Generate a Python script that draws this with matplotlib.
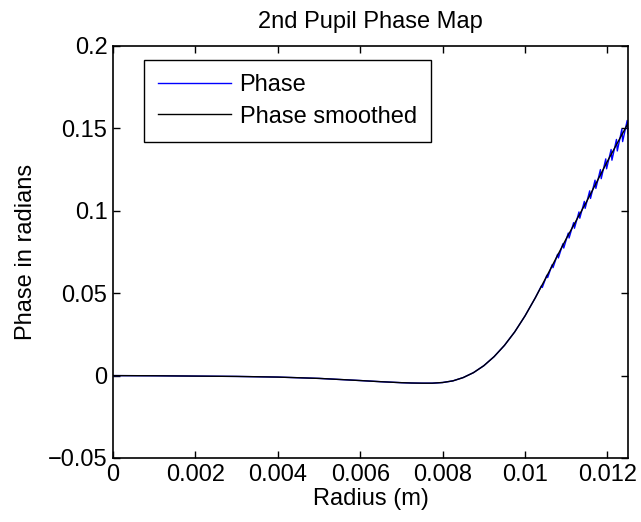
import matplotlib
matplotlib.use('Agg')
import matplotlib.pyplot as plt

plt.rcParams['font.family'] = ['Liberation Sans', 'DejaVu Sans']

# smoothed phase profile
radius = [0, 0.001, 0.002, 0.003, 0.004, 0.005, 0.006, 0.0065, 0.007, 0.00725,
          0.0075, 0.00775, 0.008, 0.00825, 0.0085, 0.00875, 0.009, 0.00925,
          0.0095, 0.00975, 0.01, 0.01025, 0.0105, 0.01075, 0.011, 0.0115,
          0.012, 0.0125]
phase_smooth = [0, -0.0001, -0.0003, -0.0005, -0.0009, -0.0017, -0.0030, -0.0037,
                -0.0043, -0.0045, -0.0046, -0.0046, -0.0042, -0.0032, -0.0012,
                0.0018, 0.0060, 0.0115, 0.0183, 0.0265, 0.0362, 0.0472, 0.0590,
                0.0710, 0.0830, 0.1058, 0.1300, 0.1530]

# raw phase: same as smoothed up to ~0.01025, then a growing sawtooth
tail_r = [0.01040, 0.01042, 0.01053, 0.01055, 0.01066, 0.01068, 0.01079, 0.01081,
          0.01092, 0.01094, 0.01105, 0.01107, 0.01118, 0.01120, 0.01131, 0.01133,
          0.01144, 0.01146, 0.01157, 0.01159, 0.01170, 0.01172, 0.01183, 0.01185,
          0.01196, 0.01198, 0.01209, 0.01211, 0.01222, 0.01224, 0.01235, 0.01237,
          0.01248, 0.01250]
tail_phase = [0.0545, 0.0535, 0.0609, 0.0595, 0.0673, 0.0655, 0.0736, 0.0714,
              0.0800, 0.0774, 0.0865, 0.0835, 0.0928, 0.0894, 0.0993, 0.0955,
              0.1057, 0.1015, 0.1121, 0.1075, 0.1186, 0.1136, 0.1250, 0.1195,
              0.1315, 0.1255, 0.1372, 0.1307, 0.1433, 0.1363, 0.1495, 0.1420,
              0.1548, 0.1468]

xticks = [0, 0.002, 0.004, 0.006, 0.008, 0.01, 0.012]
xticklabels = ['0', '0.002', '0.004', '0.006', '0.008', '0.01', '0.012']
yticks = [-0.05, 0, 0.05, 0.1, 0.15, 0.2]
yticklabels = ['\u22120.05', '0', '0.05', '0.1', '0.15', '0.2']

n_raw = radius.index(0.01025) + 1
raw_r = radius[:n_raw] + tail_r
raw_phase = phase_smooth[:n_raw] + tail_phase

fs = 17

fig = plt.figure(figsize=(6.41, 5.22), dpi=100)
ax = fig.add_axes([113/641, 1 - 458/522, 515/641, 412/522])

ax.plot(raw_r, raw_phase, color=(0, 0, 1), lw=1.0, label='Phase')
ax.plot(radius, phase_smooth, color='black', lw=1.0, label='Phase smoothed')

ax.set_xlim(0, 0.0125)
ax.set_ylim(-0.05, 0.2)
ax.set_xticks(xticks)
ax.set_xticklabels(xticklabels)
ax.set_yticks(yticks)
ax.set_yticklabels(yticklabels)
ax.tick_params(direction='in', top=True, right=True, labelsize=fs, length=5, width=1, pad=4)
for s in ax.spines.values():
    s.set_linewidth(1.2)

ax.set_xlabel('Radius (m)', fontsize=fs, labelpad=2)
ax.set_ylabel('Phase in radians', fontsize=fs, labelpad=8)
ax.set_title('2nd Pupil Phase Map', fontsize=fs, pad=13)

leg = ax.legend(loc='upper left', bbox_to_anchor=(0.06, 0.966), borderaxespad=0,
                fontsize=fs, handlelength=3.1, handletextpad=0.35, fancybox=False,
                framealpha=1, edgecolor='black', borderpad=0.6, labelspacing=0.4)
leg.get_frame().set_linewidth(1.0)

fig.savefig('out.png', dpi=100)
